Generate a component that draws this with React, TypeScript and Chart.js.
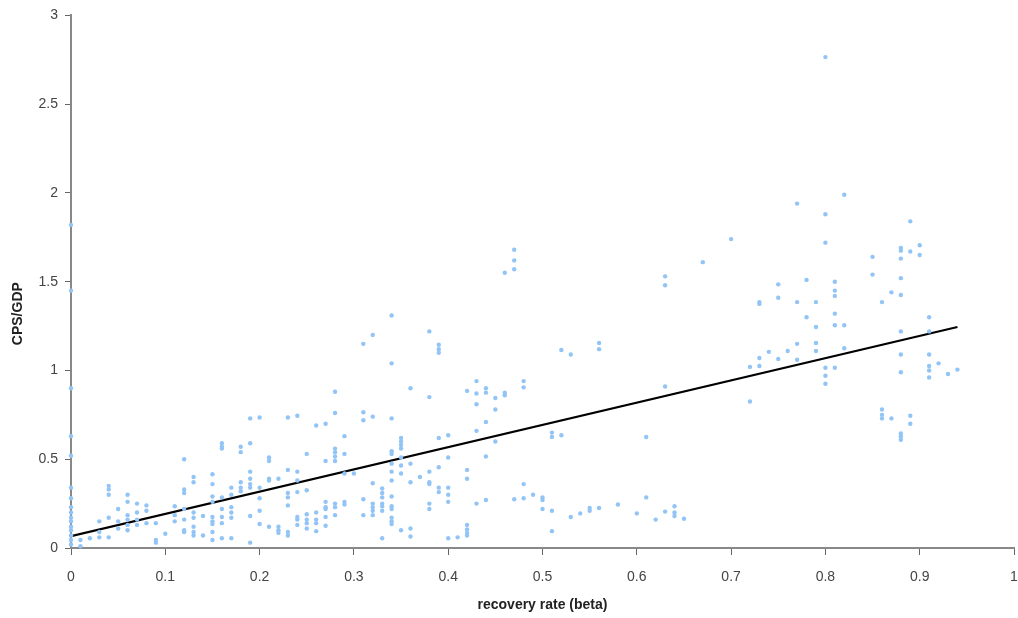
import React, { useEffect, useRef } from "react";
import { Chart, registerables } from "chart.js";

Chart.register(...registerables);

// recovery rate (beta) columns
const betaLevels: number[] = [
  0, 0.01, 0.02, 0.03, 0.04, 0.05, 0.06, 0.07, 0.08, 0.09,
  0.1, 0.11, 0.12, 0.13, 0.14, 0.15, 0.16, 0.17, 0.18, 0.19,
  0.2, 0.21, 0.22, 0.23, 0.24, 0.25, 0.26, 0.27, 0.28, 0.29,
  0.3, 0.31, 0.32, 0.33, 0.34, 0.35, 0.36, 0.37, 0.38, 0.39,
  0.4, 0.41, 0.42, 0.43, 0.44, 0.45, 0.46, 0.47, 0.48, 0.49,
  0.5, 0.51, 0.52, 0.53, 0.54, 0.55, 0.56, 0.58, 0.6, 0.61,
  0.62, 0.63, 0.64, 0.65, 0.67, 0.7, 0.72, 0.73, 0.74, 0.75,
  0.76, 0.77, 0.78, 0.79, 0.8, 0.81, 0.82, 0.85, 0.86, 0.87,
  0.88, 0.89, 0.9, 0.91, 0.92, 0.93, 0.94,
];

// CPS/GDP observations for each beta column
const cpsValues: number[][] = [
  [1.82, 1.45, 0.9, 0.63, 0.52, 0.34, 0.28, 0.23, 0.2, 0.17, 0.15, 0.12, 0.1, 0.07, 0.045, 0.02],
  [0.045, 0.01],
  [0.055],
  [0.15, 0.09, 0.06],
  [0.35, 0.33, 0.3, 0.17, 0.06],
  [0.22, 0.15, 0.11],
  [0.3, 0.26, 0.185, 0.16, 0.13, 0.1],
  [0.25, 0.2, 0.16, 0.13],
  [0.24, 0.21, 0.14],
  [0.14, 0.045, 0.03],
  [0.08],
  [0.235, 0.185, 0.15],
  [0.5, 0.33, 0.31, 0.22, 0.16, 0.1, 0.09],
  [0.4, 0.37, 0.2, 0.17, 0.12, 0.09, 0.07],
  [0.18, 0.07],
  [0.415, 0.36, 0.29, 0.26, 0.175, 0.15, 0.135, 0.09, 0.045],
  [0.59, 0.57, 0.56, 0.285, 0.22, 0.175, 0.14, 0.055],
  [0.34, 0.3, 0.23, 0.2, 0.17, 0.055],
  [0.57, 0.54, 0.37, 0.34, 0.32],
  [0.73, 0.59, 0.43, 0.39, 0.36, 0.34, 0.18, 0.03],
  [0.735, 0.34, 0.28, 0.21, 0.135],
  [0.51, 0.49, 0.39, 0.38, 0.12],
  [0.39, 0.12, 0.1, 0.085],
  [0.735, 0.44, 0.31, 0.285, 0.24, 0.09, 0.07],
  [0.745, 0.43, 0.38, 0.315, 0.175, 0.16, 0.13],
  [0.53, 0.325, 0.19, 0.16, 0.14, 0.11],
  [0.69, 0.2, 0.16, 0.14, 0.095],
  [0.7, 0.49, 0.26, 0.23, 0.22, 0.175, 0.125],
  [0.88, 0.76, 0.56, 0.54, 0.515, 0.49, 0.25, 0.23, 0.185],
  [0.63, 0.53, 0.42, 0.26, 0.245],
  [0.42],
  [1.15, 0.765, 0.72, 0.275, 0.185],
  [1.2, 0.74, 0.365, 0.25, 0.23, 0.21, 0.185],
  [0.335, 0.31, 0.285, 0.25, 0.235, 0.21, 0.055],
  [1.31, 1.04, 0.73, 0.545, 0.53, 0.475, 0.43, 0.38, 0.29, 0.235, 0.22, 0.17, 0.15, 0.135],
  [0.62, 0.6, 0.58, 0.56, 0.51, 0.465, 0.42, 0.1],
  [0.9, 0.475, 0.37, 0.11, 0.065],
  [0.4],
  [1.22, 0.85, 0.43, 0.37, 0.36, 0.25, 0.22],
  [1.145, 1.12, 1.1, 0.62, 0.455, 0.34, 0.315],
  [0.635, 0.51, 0.34, 0.3, 0.26, 0.055],
  [0.06],
  [0.885, 0.44, 0.39, 0.13, 0.105, 0.085, 0.07],
  [0.94, 0.87, 0.81, 0.66, 0.25],
  [0.9, 0.875, 0.71, 0.515, 0.27],
  [0.845, 0.78, 0.6],
  [1.55, 0.875, 0.86],
  [1.68, 1.62, 1.57, 0.275],
  [0.94, 0.905, 0.36, 0.28],
  [0.3],
  [0.285, 0.27, 0.22],
  [0.65, 0.625, 0.21, 0.095],
  [1.115, 0.635],
  [1.09, 0.175],
  [0.195],
  [0.225, 0.21],
  [1.155, 1.12, 0.225],
  [0.245],
  [0.195],
  [0.625, 0.285],
  [0.16],
  [1.53, 1.48, 0.91, 0.205],
  [0.235, 0.2, 0.18],
  [0.165],
  [1.61],
  [1.74],
  [1.02, 0.825],
  [1.385, 1.375, 1.07, 1.025],
  [1.105],
  [1.485, 1.41, 1.065],
  [1.11],
  [1.94, 1.385, 1.15, 1.06],
  [1.51, 1.3],
  [1.385, 1.245, 1.155, 1.11],
  [2.765, 1.88, 1.72, 1.015, 0.97, 0.925],
  [1.5, 1.45, 1.42, 1.32, 1.255, 1.015],
  [1.99, 1.255, 1.125],
  [1.64, 1.54],
  [1.385, 0.78, 0.75, 0.73],
  [1.44, 0.73],
  [1.69, 1.675, 1.63, 1.52, 1.425, 1.22, 1.09, 0.99, 0.645, 0.63, 0.61],
  [1.84, 1.67, 0.745, 0.7],
  [1.705, 1.65],
  [1.3, 1.22, 1.09, 1.025, 1.0, 0.96],
  [1.04],
  [0.98],
  [1.005],
];

// fitted regression line endpoints
const trendBeta: number[] = [0, 0.94];
const trendCps: number[] = [0.067, 1.245];

const xTickLabels: string[] = ["0", "0.1", "0.2", "0.3", "0.4", "0.5", "0.6", "0.7", "0.8", "0.9", "1"];
const yTickLabels: string[] = ["0", "0.5", "1", "1.5", "2", "2.5", "3"];

const yTitleText = "CPS/GDP";
const xTitleText = "recovery rate (beta)";

const FONT = "'Liberation Sans', Arial, sans-serif";

const yTitlePlugin = {
  id: "yTitleAtPosition",
  afterDraw(chart: any) {
    const { ctx, chartArea } = chart;
    const cy = chartArea.top + (chartArea.bottom - chartArea.top) * 0.56;
    ctx.save();
    ctx.translate(18, cy);
    ctx.rotate(-Math.PI / 2);
    ctx.font = `bold 14px ${FONT}`;
    ctx.fillStyle = "#222";
    ctx.textAlign = "center";
    ctx.textBaseline = "middle";
    ctx.fillText(yTitleText, 0, 0);
    ctx.restore();
  },
};

export default function App() {
  const canvasRef = useRef<HTMLCanvasElement | null>(null);

  useEffect(() => {
    if (!canvasRef.current) return;
    const scatterData: { x: number; y: number }[] = [];
    betaLevels.forEach((b, i) => {
      (cpsValues[i] || []).forEach((v) => scatterData.push({ x: b, y: v }));
    });
    const trendData = trendBeta.map((b, i) => ({ x: b, y: trendCps[i] }));

    const tickFont = { family: FONT, size: 14 };
    const titleFont = { family: FONT, size: 14, weight: "bold" as const };

    const chart = new Chart(canvasRef.current, {
      type: "scatter",
      data: {
        datasets: [
          {
            type: "scatter",
            label: "observations",
            data: scatterData,
            backgroundColor: "#92C4F5",
            borderColor: "#92C4F5",
            pointRadius: 2.2,
            pointBorderWidth: 0,
            clip: false,
          },
          {
            type: "line",
            label: "fit",
            data: trendData,
            borderColor: "#000000",
            borderWidth: 2.2,
            pointRadius: 0,
            fill: false,
          },
        ],
      },
      options: {
        animation: false,
        responsive: true,
        maintainAspectRatio: false,
        layout: { padding: { left: 0, top: 13, right: 0, bottom: 0 } },
        plugins: {
          legend: { display: false },
          tooltip: { enabled: false },
        },
        scales: {
          x: {
            type: "linear",
            min: 0,
            max: 1,
            afterFit: (s: any) => {
              s.height = 70;
              s.paddingRight = 3;
            },
            ticks: {
              stepSize: 0.1,
              padding: 14,
              color: "#444",
              font: tickFont,
              maxRotation: 0,
              callback: (_v: any, idx: number) => xTickLabels[idx] ?? "",
            },
            grid: { drawOnChartArea: false, drawTicks: true, tickLength: 7, color: "#666" },
            border: { color: "#888", width: 2 },
            title: {
              display: true,
              text: xTitleText,
              color: "#222",
              font: titleFont,
              padding: { top: 4, bottom: 4 },
            },
          },
          y: {
            type: "linear",
            min: 0,
            max: 3,
            afterFit: (s: any) => {
              s.width = 71;
            },
            ticks: {
              stepSize: 0.5,
              padding: 7,
              color: "#444",
              font: tickFont,
              callback: (_v: any, idx: number) => yTickLabels[idx] ?? "",
            },
            grid: { drawOnChartArea: false, drawTicks: true, tickLength: 6, color: "#666" },
            border: { color: "#888", width: 2 },
            title: { display: false },
          },
        },
      },
      plugins: [yTitlePlugin],
    });
    return () => chart.destroy();
  }, []);

  return (
    <div style={{ position: "absolute", left: 0, top: 0, width: 1018, height: 618, background: "#fff" }}>
      <canvas ref={canvasRef} />
    </div>
  );
}
